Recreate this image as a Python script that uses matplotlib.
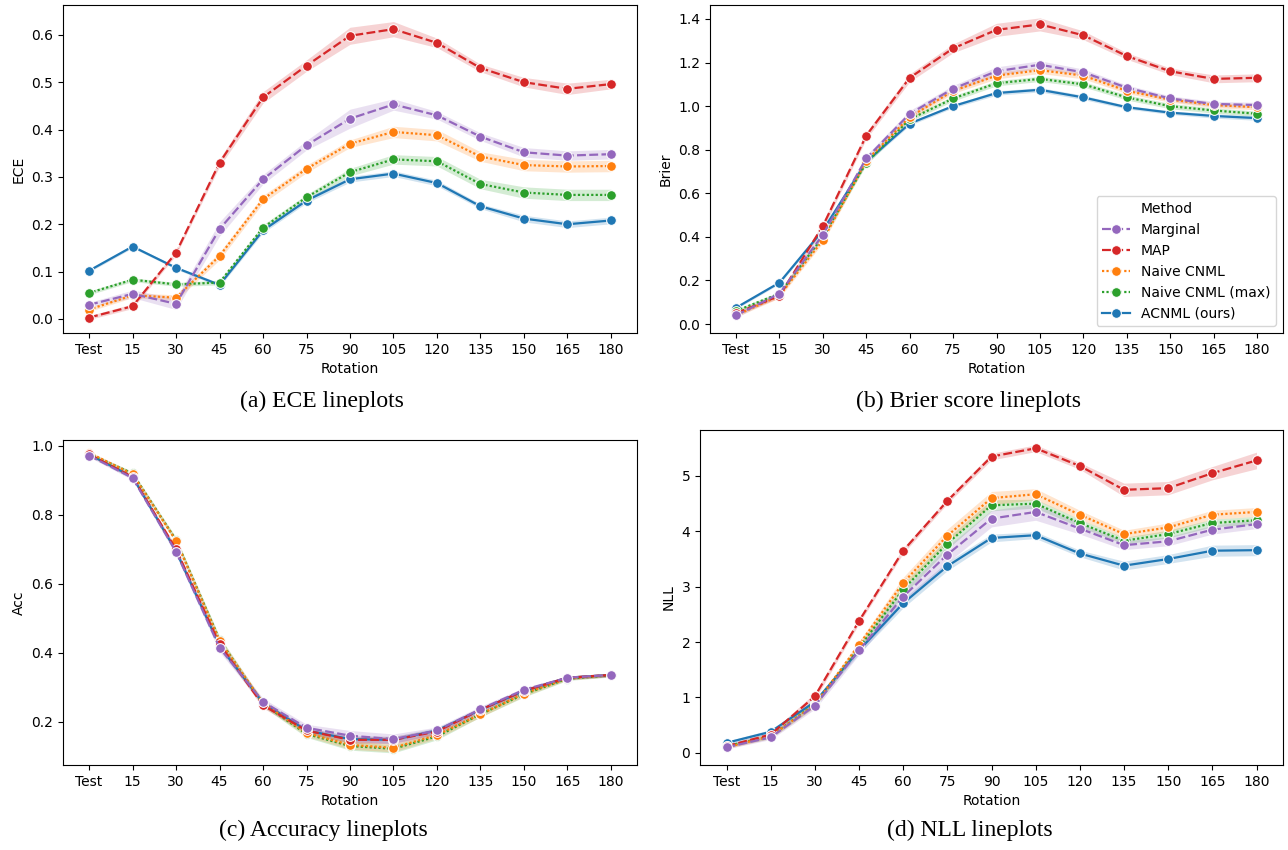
import matplotlib
matplotlib.use("Agg")
import matplotlib.pyplot as plt
from matplotlib.lines import Line2D
import numpy as np

rotations = ["Test", "15", "30", "45", "60", "75", "90", "105", "120", "135", "150", "165", "180"]
methods = ["Marginal", "MAP", "Naive CNML", "Naive CNML (max)", "ACNML (ours)"]
colors = {"Marginal": "#9467bd", "MAP": "#d62728", "Naive CNML": "#ff7f0e",
          "Naive CNML (max)": "#2ca02c", "ACNML (ours)": "#1f77b4"}
dashes = {"Marginal": (4, 1.5), "MAP": (4, 1.5), "Naive CNML": (1, 1),
          "Naive CNML (max)": (1, 1), "ACNML (ours)": None}

# --- ECE ---
ece = {
    "Marginal":         [0.030, 0.053, 0.032, 0.190, 0.295, 0.367, 0.423, 0.453, 0.430, 0.385, 0.352, 0.345, 0.348],
    "MAP":              [0.003, 0.027, 0.140, 0.330, 0.468, 0.535, 0.598, 0.612, 0.583, 0.530, 0.500, 0.486, 0.496],
    "Naive CNML":       [0.020, 0.050, 0.045, 0.133, 0.253, 0.317, 0.370, 0.395, 0.388, 0.343, 0.325, 0.322, 0.323],
    "Naive CNML (max)": [0.055, 0.083, 0.073, 0.077, 0.193, 0.257, 0.310, 0.337, 0.333, 0.285, 0.267, 0.262, 0.262],
    "ACNML (ours)":     [0.102, 0.153, 0.108, 0.072, 0.187, 0.250, 0.295, 0.307, 0.287, 0.238, 0.212, 0.200, 0.208],
}
ece_err = {
    "Marginal":         [0.005, 0.008, 0.012, 0.015, 0.010, 0.010, 0.020, 0.012, 0.008, 0.008, 0.010, 0.010, 0.010],
    "MAP":              [0.004, 0.005, 0.005, 0.008, 0.012, 0.012, 0.018, 0.016, 0.010, 0.008, 0.010, 0.012, 0.010],
    "Naive CNML":       [0.004, 0.005, 0.006, 0.008, 0.008, 0.008, 0.008, 0.012, 0.012, 0.010, 0.012, 0.012, 0.012],
    "Naive CNML (max)": [0.004, 0.004, 0.004, 0.005, 0.006, 0.006, 0.008, 0.010, 0.010, 0.010, 0.012, 0.012, 0.012],
    "ACNML (ours)":     [0.003, 0.003, 0.003, 0.004, 0.005, 0.005, 0.006, 0.006, 0.006, 0.005, 0.007, 0.007, 0.007],
}

# --- Brier ---
brier = {
    "Marginal":         [0.040, 0.140, 0.410, 0.760, 0.965, 1.080, 1.160, 1.190, 1.155, 1.085, 1.035, 1.010, 1.005],
    "MAP":              [0.050, 0.130, 0.450, 0.865, 1.130, 1.265, 1.350, 1.375, 1.325, 1.230, 1.160, 1.125, 1.130],
    "Naive CNML":       [0.040, 0.130, 0.385, 0.750, 0.950, 1.070, 1.140, 1.165, 1.140, 1.070, 1.030, 1.005, 0.995],
    "Naive CNML (max)": [0.060, 0.140, 0.400, 0.740, 0.940, 1.035, 1.105, 1.125, 1.100, 1.040, 1.000, 0.980, 0.965],
    "ACNML (ours)":     [0.075, 0.190, 0.430, 0.745, 0.920, 1.000, 1.060, 1.075, 1.040, 0.995, 0.970, 0.955, 0.945],
}
brier_err = {
    "Marginal":         [0.010, 0.010, 0.015, 0.015, 0.015, 0.015, 0.020, 0.018, 0.015, 0.012, 0.012, 0.012, 0.012],
    "MAP":              [0.008, 0.010, 0.015, 0.015, 0.018, 0.020, 0.030, 0.030, 0.020, 0.015, 0.015, 0.018, 0.018],
    "Naive CNML":       [0.008, 0.010, 0.012, 0.012, 0.012, 0.012, 0.015, 0.015, 0.015, 0.012, 0.012, 0.012, 0.012],
    "Naive CNML (max)": [0.008, 0.008, 0.010, 0.010, 0.010, 0.012, 0.012, 0.012, 0.012, 0.012, 0.012, 0.012, 0.012],
    "ACNML (ours)":     [0.006, 0.006, 0.008, 0.008, 0.008, 0.008, 0.010, 0.010, 0.010, 0.008, 0.008, 0.010, 0.010],
}

# --- Accuracy ---
acc = {
    "Marginal":         [0.972, 0.907, 0.693, 0.415, 0.258, 0.183, 0.160, 0.150, 0.175, 0.237, 0.293, 0.328, 0.336],
    "MAP":              [0.975, 0.910, 0.700, 0.425, 0.248, 0.175, 0.148, 0.148, 0.172, 0.235, 0.290, 0.328, 0.336],
    "Naive CNML":       [0.980, 0.918, 0.725, 0.435, 0.255, 0.168, 0.133, 0.125, 0.162, 0.222, 0.282, 0.326, 0.336],
    "Naive CNML (max)": [0.977, 0.920, 0.727, 0.438, 0.252, 0.165, 0.130, 0.122, 0.158, 0.222, 0.280, 0.325, 0.335],
    "ACNML (ours)":     [0.975, 0.910, 0.695, 0.420, 0.255, 0.175, 0.150, 0.148, 0.175, 0.235, 0.290, 0.328, 0.336],
}
acc_err = {
    "Marginal":         [0.004, 0.006, 0.010, 0.012, 0.010, 0.010, 0.015, 0.015, 0.010, 0.008, 0.006, 0.005, 0.005],
    "MAP":              [0.004, 0.006, 0.008, 0.010, 0.008, 0.008, 0.010, 0.010, 0.008, 0.006, 0.006, 0.005, 0.005],
    "Naive CNML":       [0.004, 0.006, 0.008, 0.010, 0.008, 0.010, 0.012, 0.012, 0.010, 0.008, 0.008, 0.005, 0.005],
    "Naive CNML (max)": [0.004, 0.006, 0.008, 0.010, 0.008, 0.010, 0.012, 0.012, 0.010, 0.008, 0.008, 0.005, 0.005],
    "ACNML (ours)":     [0.004, 0.006, 0.008, 0.010, 0.008, 0.008, 0.010, 0.010, 0.008, 0.006, 0.006, 0.005, 0.005],
}

# --- NLL ---
nll = {
    "Marginal":         [0.10, 0.28, 0.85, 1.85, 2.82, 3.58, 4.23, 4.35, 4.05, 3.75, 3.82, 4.03, 4.13],
    "MAP":              [0.12, 0.33, 1.02, 2.38, 3.65, 4.55, 5.35, 5.50, 5.18, 4.75, 4.78, 5.05, 5.28],
    "Naive CNML":       [0.10, 0.30, 0.87, 1.95, 3.07, 3.92, 4.60, 4.67, 4.30, 3.95, 4.07, 4.30, 4.35],
    "Naive CNML (max)": [0.12, 0.30, 0.88, 1.90, 2.95, 3.78, 4.47, 4.50, 4.15, 3.83, 3.95, 4.15, 4.20],
    "ACNML (ours)":     [0.18, 0.38, 0.92, 1.85, 2.70, 3.37, 3.88, 3.93, 3.60, 3.38, 3.50, 3.65, 3.66],
}
nll_err = {
    "Marginal":         [0.03, 0.04, 0.06, 0.08, 0.12, 0.15, 0.15, 0.15, 0.10, 0.08, 0.08, 0.08, 0.08],
    "MAP":              [0.03, 0.04, 0.06, 0.05, 0.05, 0.05, 0.06, 0.06, 0.06, 0.12, 0.12, 0.12, 0.15],
    "Naive CNML":       [0.03, 0.04, 0.05, 0.06, 0.10, 0.12, 0.12, 0.10, 0.08, 0.07, 0.08, 0.08, 0.08],
    "Naive CNML (max)": [0.03, 0.04, 0.05, 0.06, 0.10, 0.10, 0.10, 0.08, 0.07, 0.06, 0.07, 0.07, 0.07],
    "ACNML (ours)":     [0.03, 0.04, 0.05, 0.06, 0.08, 0.08, 0.07, 0.06, 0.06, 0.08, 0.08, 0.10, 0.10],
}

W, H = 1288, 850
fig = plt.figure(figsize=(W / 100, H / 100), dpi=100)


def px_axes(l, t, r, b):
    return fig.add_axes([l / W, 1 - b / H, (r - l) / W, (b - t) / H])


panels = [
    (ece, ece_err, "ECE", (63, 5, 637, 333), (-0.0296, 0.663), np.arange(0, 0.61, 0.1), "%.1f",
     "(a) ECE lineplots", (322, 401)),
    (brier, brier_err, "Brier", (710, 5, 1283, 333), (-0.041, 1.464), np.arange(0, 1.41, 0.2), "%.1f",
     "(b) Brier score lineplots", (968, 401)),
    (acc, acc_err, "Acc", (63, 440, 637, 765), (0.075, 1.017), np.arange(0.2, 1.01, 0.2), "%.1f",
     "(c) Accuracy lineplots", (323, 830)),
    (nll, nll_err, "NLL", (700, 430, 1283, 765), (-0.22, 5.83), np.arange(0, 6, 1), "%d",
     "(d) NLL lineplots", (970, 830)),
]

x = np.arange(len(rotations))
draw_order = ["ACNML (ours)", "Naive CNML (max)", "Naive CNML", "MAP", "Marginal"]
msize = 7

for means, errs, ylabel, box, ylim, yticks, fmt, caption, cap_xy in panels:
    ax = px_axes(*box)
    for m in draw_order:
        y = np.array(means[m])
        e = np.array(errs[m])
        ax.fill_between(x, y - e, y + e, color=colors[m], alpha=0.2, linewidth=0)
        line, = ax.plot(x, y, color=colors[m], lw=1.6, marker="o", markersize=msize,
                        markeredgecolor="white", markeredgewidth=0.75)
        if dashes[m] is not None:
            line.set_dashes(dashes[m])
    ax.set_xticks(x)
    ax.set_xticklabels(rotations)
    ax.set_ylim(*ylim)
    ax.set_yticks(yticks)
    ax.set_yticklabels([fmt % v for v in yticks])
    ax.set_xlabel("Rotation")
    ax.set_ylabel(ylabel)
    fig.text(cap_xy[0] / W, 1 - cap_xy[1] / H, caption, ha="center", va="center",
             fontsize=17, family="Liberation Serif")

    if ylabel == "Brier":
        handles = [Line2D([], [], linestyle="none", marker="none")]
        labels = ["Method"]
        for m in methods:
            h = Line2D([], [], color=colors[m], lw=1.6, marker="o", markersize=msize,
                       markeredgecolor="white", markeredgewidth=0.75)
            if dashes[m] is not None:
                h.set_dashes(dashes[m])
            handles.append(h)
            labels.append(m)
        ax.legend(handles, labels, loc="lower right")

fig.savefig("out.png", dpi=100)
